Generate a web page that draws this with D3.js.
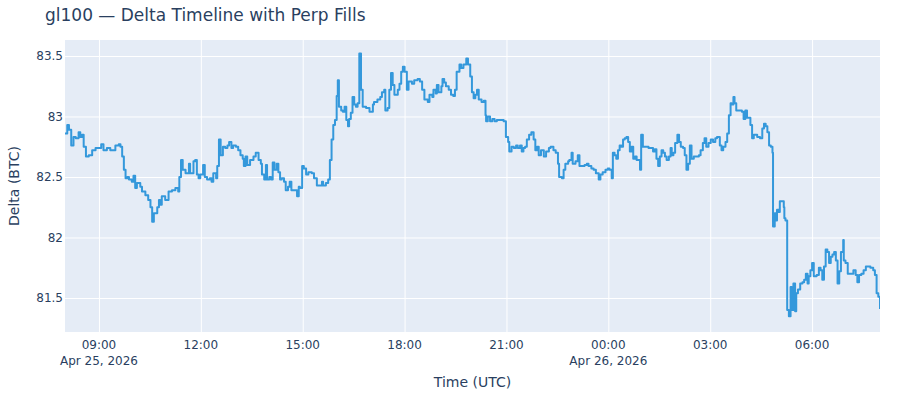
<!DOCTYPE html>
<html>
<head>
<meta charset="utf-8">
<script src="https://cdn.jsdelivr.net/npm/d3@7"></script>
<style>
  body { margin: 0; background: #fff; }
  text { font-family: "DejaVu Sans", verdana, arial, sans-serif; fill: #2a3f5f; }
  .grid line { stroke: #fff; stroke-width: 1px; }
  .grid path { display: none; }
</style>
</head>
<body>
<div id="chart"></div>
<script>
// series start (UTC) and minutes after it
var startTime = "2026-04-25T08:00:00Z";

var minutes = [
  0, 4, 7, 11, 15, 19, 24, 27, 30, 33, 37, 42, 48, 54, 60, 64, 68, 74, 80, 86, 89, 95, 98,
  101, 104, 107, 110, 113, 118, 121, 124, 127, 133, 136, 142, 147, 151, 154, 157, 163, 166, 168,
  171, 177, 183, 189, 195, 200, 202, 205, 208, 213, 219, 221, 227, 230, 233, 236,
  239, 244, 247, 251, 256, 259, 262, 267, 269, 272, 275, 279, 283, 287, 290, 294, 297, 302,
  306, 310, 314, 316, 319, 322, 327, 333, 337, 342, 346, 348, 352, 355, 357, 361, 364, 367,
  370, 374, 377, 380, 383, 387, 390, 394, 397, 400, 405, 408, 410, 413, 415, 419, 422, 426,
  430, 436, 440, 445, 449, 454, 456, 461, 465, 468, 471, 474, 477,
  480, 482, 484, 488, 491, 494, 497, 500, 502, 505, 508, 511, 514, 517, 520, 523, 526, 532,
  538, 544, 546, 552, 557, 560, 564, 566, 570, 573, 576, 579, 582, 588, 591, 594, 597, 600,
  604, 607, 613, 617, 623, 627, 631, 635, 641, 644, 649, 651, 655, 657, 660, 665, 667, 670,
  673, 678, 682, 686, 689, 692, 697, 700, 704, 709, 712, 716, 719, 722,
  725, 728, 731, 736, 740, 743, 744, 747, 751, 755, 759, 763, 769, 775, 779, 783, 785, 789,
  793, 797, 800, 804, 807, 810, 813, 816, 820, 824, 828, 831, 834, 837, 841, 846, 850, 855,
  858, 863, 867, 871, 873, 878, 881, 884, 889, 891, 895, 897, 902, 906, 909, 913, 918, 922,
  925, 930, 934, 938, 943, 946, 950, 955, 959, 962, 966,
  968, 971, 974, 977, 980, 983, 986, 989, 992, 995, 998, 1001, 1004, 1007, 1010, 1014, 1016,
  1018, 1021, 1027, 1031, 1036, 1039, 1042, 1045, 1048, 1051, 1054, 1057, 1060, 1063, 1067,
  1070, 1072, 1075, 1078, 1082, 1085, 1088, 1092, 1095, 1098, 1101, 1104, 1107, 1111, 1115,
  1120, 1123, 1127, 1130, 1133, 1137, 1141, 1145, 1149, 1152, 1157, 1160, 1163, 1167, 1170,
  1173, 1176, 1178, 1181, 1183, 1186, 1192, 1196, 1199, 1202,
  1205, 1211, 1214, 1217, 1220, 1223, 1228, 1232, 1235, 1238, 1241, 1244, 1247, 1250, 1251,
  1254, 1256, 1258, 1261, 1263, 1267, 1270, 1271, 1273, 1276, 1279, 1282, 1284, 1287, 1290,
  1292, 1295, 1299, 1303, 1306, 1309, 1312, 1314, 1317, 1320, 1323, 1328, 1332, 1335, 1338,
  1341, 1344, 1347, 1350, 1353, 1356, 1359, 1362, 1365, 1368, 1371, 1375, 1376, 1379, 1383,
  1388, 1393, 1397, 1400, 1403, 1407, 1411, 1415, 1419, 1423, 1428, 1431, 1434, 1437, 1440
];

var delta = [
  82.86, 82.93, 82.89, 82.76, 82.83, 82.82, 82.87, 82.83, 82.85, 82.75, 82.67, 82.68, 82.72, 82.74, 82.74, 82.77, 82.72, 82.74, 82.72, 82.72, 82.76, 82.77, 82.75,
  82.67, 82.56, 82.49, 82.50, 82.48, 82.46, 82.51, 82.41, 82.45, 82.42, 82.38, 82.35, 82.31, 82.25, 82.13, 82.20, 82.25, 82.31, 82.27,
  82.34, 82.31, 82.38, 82.39, 82.41, 82.38, 82.50, 82.64, 82.56, 82.53, 82.61, 82.53, 82.63, 82.64, 82.52, 82.49,
  82.52, 82.60, 82.50, 82.48, 82.49, 82.46, 82.53, 82.49, 82.59, 82.81, 82.68, 82.75, 82.74, 82.76, 82.79, 82.74, 82.76, 82.75,
  82.72, 82.68, 82.65, 82.59, 82.67, 82.60, 82.64, 82.67, 82.70, 82.64, 82.61, 82.52, 82.48, 82.60, 82.48, 82.50, 82.48, 82.62,
  82.56, 82.61, 82.54, 82.48, 82.49, 82.46, 82.39, 82.42, 82.46, 82.39, 82.39, 82.39, 82.34, 82.42, 82.41, 82.59, 82.57, 82.52,
  82.54, 82.53, 82.49, 82.43, 82.43, 82.46, 82.43, 82.45, 82.48, 82.64, 82.81, 82.93, 82.97,
  83.17, 83.30, 83.08, 83.05, 83.04, 83.08, 82.97, 82.92, 82.98, 83.03, 83.16, 83.10, 83.08, 83.11, 83.52, 83.22, 83.08, 83.07,
  83.04, 83.10, 83.12, 83.14, 83.16, 83.20, 83.22, 83.05, 83.07, 83.22, 83.36, 83.26, 83.18, 83.22, 83.27, 83.37, 83.41, 83.37,
  83.22, 83.29, 83.27, 83.30, 83.31, 83.29, 83.22, 83.14, 83.12, 83.18, 83.16, 83.22, 83.19, 83.26, 83.20, 83.25, 83.31, 83.28,
  83.25, 83.22, 83.18, 83.17, 83.22, 83.37, 83.43, 83.40, 83.43, 83.48, 83.43, 83.33, 83.20, 83.15,
  83.18, 83.22, 83.14, 83.12, 83.13, 83.01, 82.96, 83.00, 82.96, 82.98, 82.96, 82.97, 82.97, 82.96, 82.83, 82.79, 82.71, 82.75,
  82.74, 82.76, 82.74, 82.76, 82.71, 82.74, 82.75, 82.81, 82.85, 82.87, 82.81, 82.72, 82.75, 82.68, 82.72, 82.67, 82.71, 82.74,
  82.75, 82.72, 82.70, 82.61, 82.50, 82.49, 82.56, 82.61, 82.63, 82.64, 82.70, 82.61, 82.63, 82.68, 82.59, 82.59, 82.60, 82.61,
  82.59, 82.57, 82.56, 82.53, 82.48, 82.52, 82.54, 82.56, 82.57, 82.56, 82.49,
  82.70, 82.68, 82.65, 82.72, 82.76, 82.75, 82.81, 82.82, 82.83, 82.79, 82.71, 82.75, 82.65, 82.67, 82.64, 82.64, 82.56,
  82.85, 82.75, 82.75, 82.74, 82.74, 82.71, 82.73, 82.65, 82.59, 82.67, 82.72, 82.70, 82.67, 82.64, 82.67,
  82.74, 82.68, 82.70, 82.78, 82.85, 82.79, 82.75, 82.74, 82.68, 82.56, 82.61, 82.76, 82.65, 82.67, 82.67,
  82.68, 82.72, 82.78, 82.82, 82.75, 82.78, 82.81, 82.79, 82.82, 82.83, 82.76, 82.72, 82.75, 82.79, 82.86,
  83.01, 83.11, 83.10, 83.16, 83.11, 83.05, 83.05, 83.04, 82.98, 83.05,
  82.99, 82.93, 82.82, 82.85, 82.85, 82.83, 82.82, 82.90, 82.94, 82.92, 82.87, 82.76, 82.75, 82.70, 82.09,
  82.20, 82.14, 82.23, 82.21, 82.30, 82.30, 82.25, 82.16, 82.14, 81.40, 81.35, 81.59, 81.40, 81.62, 81.39,
  81.54, 81.57, 81.62, 81.63, 81.65, 81.70, 81.62, 81.68, 81.73, 81.79, 81.68, 81.69, 81.75, 81.73, 81.65,
  81.76, 81.90, 81.88, 81.79, 81.84, 81.86, 81.88, 81.81, 81.62, 81.72, 81.88, 81.98, 81.81, 81.79, 81.70,
  81.70, 81.73, 81.69, 81.63, 81.69, 81.70, 81.73, 81.76, 81.76, 81.75, 81.73, 81.69, 81.54, 81.51, 81.41
];

var yTicks = [81.5, 82, 82.5, 83, 83.5];
var yDomain = [81.219, 83.632];

var width = 900, height = 400;
var margin = {top: 40, right: 20, bottom: 68, left: 65};
var plotW = width - margin.left - margin.right;
var plotH = height - margin.top - margin.bottom;

var t0 = new Date(startTime);
var data = minutes.map(function(m, i) {
  return {t: new Date(t0.getTime() + m * 60000), v: delta[i]};
});

var x = d3.scaleUtc()
    .domain(d3.extent(data, function(d) { return d.t; }))
    .range([0, plotW]);
var y = d3.scaleLinear().domain(yDomain).range([plotH, 0]);

var svg = d3.select("#chart").append("svg")
    .attr("width", width)
    .attr("height", height);

// title
svg.append("text")
    .attr("x", 45)
    .attr("y", 21)
    .style("font-size", "17px")
    .text("gl100 — Delta Timeline with Perp Fills");

var g = svg.append("g")
    .attr("transform", "translate(" + margin.left + "," + margin.top + ")");

g.append("rect")
    .attr("width", plotW)
    .attr("height", plotH)
    .attr("fill", "#E5ECF6");

var xTicks = x.ticks(d3.utcHour.every(3));

// gridlines
g.append("g")
    .attr("class", "grid")
    .attr("transform", "translate(0," + plotH + ")")
    .call(d3.axisBottom(x).tickValues(xTicks).tickSize(-plotH).tickFormat(""));
g.append("g")
    .attr("class", "grid")
    .call(d3.axisLeft(y).tickValues(yTicks).tickSize(-plotW).tickFormat(""));

// line
g.append("clipPath").attr("id", "clip")
  .append("rect").attr("width", plotW).attr("height", plotH);

var valueline = d3.line()
    .curve(d3.curveStepAfter)
    .x(function(d) { return x(d.t); })
    .y(function(d) { return y(d.v); });

g.append("path")
    .datum(data)
    .attr("clip-path", "url(#clip)")
    .attr("d", valueline)
    .attr("fill", "none")
    .attr("stroke", "#3498db")
    .attr("stroke-width", 2)
    .attr("stroke-linejoin", "round");

// y tick labels
g.selectAll(".ylab")
    .data(yTicks).enter()
    .append("text")
    .attr("x", -2)
    .attr("y", function(d) { return y(d); })
    .attr("dy", "0.35em")
    .attr("text-anchor", "end")
    .style("font-size", "12px")
    .text(function(d) { return String(d); });

// x tick labels
var fmtTime = d3.utcFormat("%H:%M");
var fmtDate = d3.utcFormat("%b %-d, %Y");
var xl = g.selectAll(".xlab")
    .data(xTicks).enter()
    .append("text")
    .attr("text-anchor", "middle")
    .attr("transform", function(d) { return "translate(" + x(d) + "," + (plotH + 17) + ")"; })
    .style("font-size", "12px");
xl.append("tspan")
    .attr("x", 0)
    .text(function(d) { return fmtTime(d); });
xl.filter(function(d, i) { return i === 0 || d.getUTCHours() === 0; })
  .append("tspan")
    .attr("x", 0)
    .attr("dy", 16)
    .text(function(d) { return fmtDate(d); });

// axis titles
svg.append("text")
    .attr("x", margin.left + plotW / 2)
    .attr("y", 387)
    .attr("text-anchor", "middle")
    .style("font-size", "14px")
    .text("Time (UTC)");

svg.append("text")
    .attr("transform", "translate(19," + (margin.top + plotH / 2) + ") rotate(-90)")
    .attr("text-anchor", "middle")
    .style("font-size", "14px")
    .text("Delta (BTC)");
</script>
</body>
</html>
